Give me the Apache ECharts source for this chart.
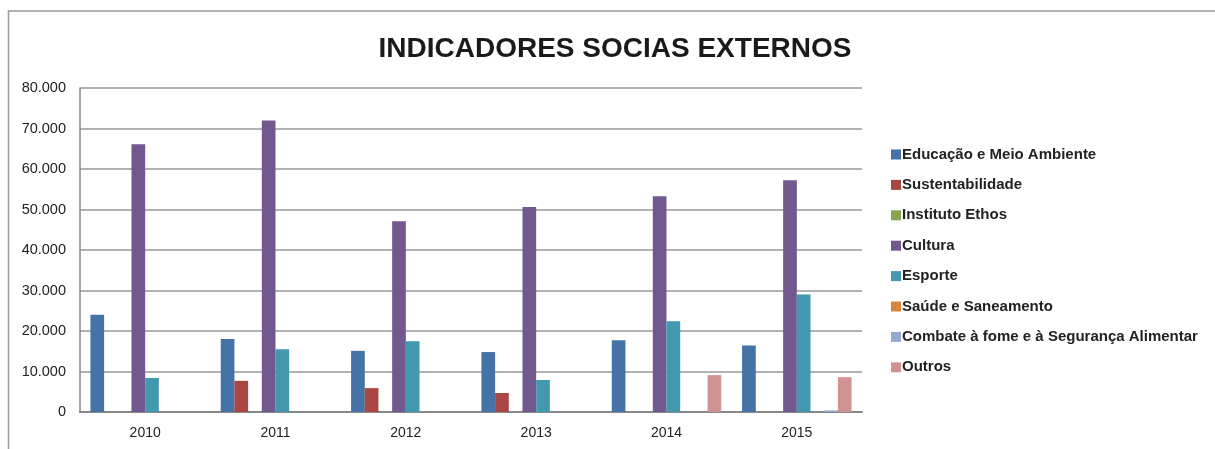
<!DOCTYPE html>
<html>
<head>
    <meta charset="utf-8">
    <title>Indicadores Socias Externos</title>
    <script src="https://cdn.jsdelivr.net/npm/echarts@6/dist/echarts.min.js"></script>
    <style>
        html, body { margin: 0; padding: 0; background: #fff; }
    </style>
</head>
<body>
    <div id="main" style="width: 1215px;height:449px;"></div>
    <script type="text/javascript">
        var myChart = echarts.init(document.getElementById('main'));

        // categorias (anos)
        var anos = ['2010', '2011', '2012', '2013', '2014', '2015'];

        // valores por série
        var educacao = [24000, 18000, 15100, 14800, 17700, 16400];
        var sustentabilidade = [0, 7700, 5900, 4700, 0, 0];
        var ethos = [0, 0, 0, 0, 0, 0];
        var cultura = [66100, 72000, 47100, 50600, 53300, 57200];
        var esporte = [8400, 15500, 17500, 7900, 22400, 29000];
        var saude = [0, 0, 0, 0, 0, 0];
        var combate = [0, 0, 0, 0, 0, 400];
        var outros = [0, 0, 0, 0, 9100, 8600];

        var nomes = ['Educação e Meio Ambiente', 'Sustentabilidade', 'Instituto Ethos', 'Cultura',
            'Esporte', 'Saúde e Saneamento', 'Combate à fome e à Segurança Alimentar', 'Outros'];
        var valores = [educacao, sustentabilidade, ethos, cultura, esporte, saude, combate, outros];
        var cores = ['#4572A7', '#AA4643', '#89A54E', '#71588F', '#4198AF', '#DB843D', '#93A9CF', '#D19392'];

        var series = nomes.map(function (n, i) {
            return {
                name: n,
                type: 'bar',
                data: valores[i],
                barGap: 0,
                barCategoryGap: '16%',
                itemStyle: { color: cores[i] }
            };
        });

        myChart.setOption({
            animation: false,
            textStyle: { fontFamily: 'Liberation Sans, Arial, sans-serif' },
            graphic: [{
                type: 'rect',
                shape: { x: 8.5, y: 11, width: 1300, height: 500 },
                style: { fill: 'none', stroke: '#999', lineWidth: 1.5 },
                silent: true
            }],
            title: {
                text: 'INDICADORES SOCIAS EXTERNOS',
                left: 610,
                textAlign: 'center',
                top: 30,
                textStyle: {
                    fontSize: 28,
                    fontWeight: 'bold',
                    color: '#1a1a1a'
                }
            },
            legend: {
                orient: 'vertical',
                left: 886,
                top: 142,
                itemWidth: 10,
                itemHeight: 10,
                itemGap: 15.4,
                icon: 'rect',
                textStyle: {
                    fontSize: 15,
                    fontWeight: 'bold',
                    color: '#222',
                    lineHeight: 15,
                    padding: [0, 0, 0, -4]
                },
                data: nomes
            },
            grid: {
                left: 80,
                right: 353,
                top: 88,
                bottom: 37,
                containLabel: false
            },
            xAxis: {
                type: 'category',
                data: anos,
                axisLine: { lineStyle: { color: '#888', width: 2 } },
                axisTick: { show: false },
                axisLabel: { fontSize: 14, color: '#222', margin: 14 }
            },
            yAxis: {
                type: 'value',
                min: 0,
                max: 80000,
                interval: 10000,
                axisLine: { show: true, lineStyle: { color: '#888', width: 1.5 } },
                axisTick: { show: false },
                axisLabel: {
                    fontSize: 14.5,
                    color: '#222',
                    margin: 14,
                    formatter: function (v) {
                        return v === 0 ? '0' : (v / 1000).toFixed(0) + '.000';
                    }
                },
                splitLine: { lineStyle: { color: '#999', width: 1.5 } }
            },
            series: series
        });
    </script>
</body>
</html>
